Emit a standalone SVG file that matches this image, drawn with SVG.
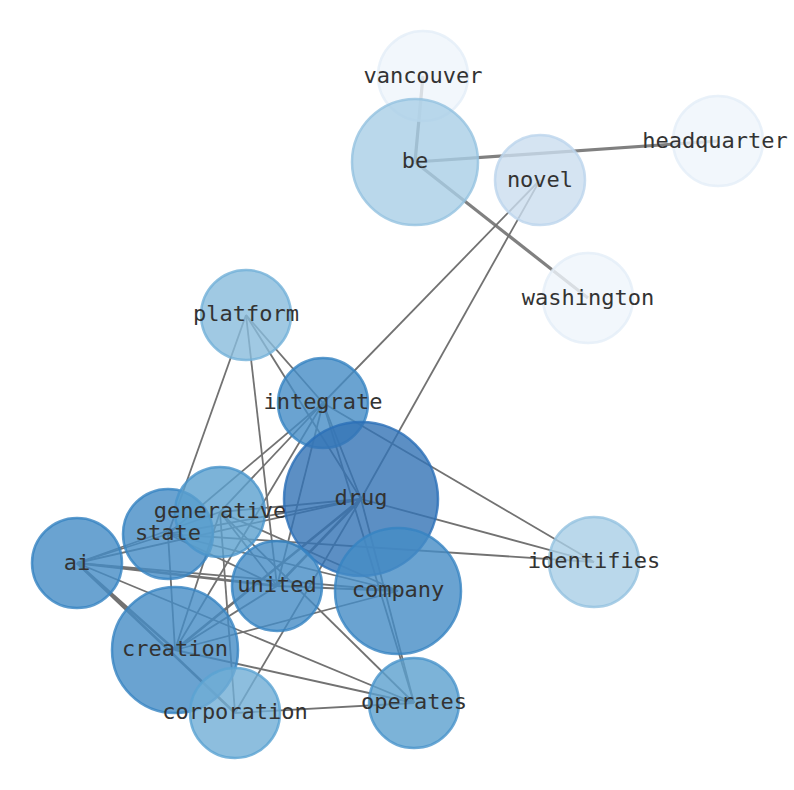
<svg xmlns="http://www.w3.org/2000/svg" width="794" height="790" viewBox="0 0 794 790">
<style>
.e{stroke:#727272;stroke-width:1.8;fill:none}
.w2{stroke-width:2.6}
.t{stroke:#808080;stroke-width:3.2}
.n{stroke-width:2.5;fill-opacity:0.8;stroke-opacity:0.8}
.c0{fill:#eff5fb;stroke:#e4eef8}
.c1{fill:#caddef;stroke:#bcd5ec}
.c2{fill:#a9cee6;stroke:#93c2e0}
.c3{fill:#88bcdc;stroke:#72b0d8}
.c4{fill:#71aed6;stroke:#5aa2d2}
.c5{fill:#5ba0ce;stroke:#4894ca}
.c6{fill:#458cc6;stroke:#3683c2}
.c7{fill:#3373b5;stroke:#2a6fb8}
text{font-family:"DejaVu Sans Mono","Liberation Mono",monospace;font-size:22px;fill:#333;text-anchor:middle}
</style>
<rect width="794" height="790" fill="#fff"/>
<g id="edges">
<line class="e t" x1="415" y1="162" x2="423" y2="76"/>
<line class="e t" x1="415" y1="162" x2="718" y2="141"/>
<line class="e t" x1="415" y1="162" x2="588" y2="298"/>
<line class="e" x1="540" y1="180" x2="323" y2="403"/>
<line class="e" x1="540" y1="180" x2="361" y2="499"/>
<line class="e" x1="246" y1="315" x2="168" y2="534"/>
<line class="e" x1="246" y1="315" x2="277" y2="586"/>
<line class="e" x1="246" y1="315" x2="323" y2="403"/>
<line class="e" x1="246" y1="315" x2="361" y2="499"/>
<line class="e" x1="323" y1="403" x2="594" y2="562"/>
<line class="e" x1="323" y1="403" x2="168" y2="534"/>
<line class="e" x1="323" y1="403" x2="361" y2="499"/>
<line class="e" x1="323" y1="403" x2="277" y2="586"/>
<line class="e" x1="323" y1="403" x2="175" y2="650"/>
<line class="e" x1="323" y1="403" x2="414" y2="703"/>
<line class="e" x1="361" y1="499" x2="594" y2="562"/>
<line class="e" x1="361" y1="499" x2="220" y2="512"/>
<line class="e" x1="361" y1="499" x2="168" y2="534"/>
<line class="e" x1="361" y1="499" x2="77" y2="563"/>
<line class="e w2" x1="361" y1="499" x2="277" y2="586"/>
<line class="e w2" x1="361" y1="499" x2="175" y2="650"/>
<line class="e" x1="361" y1="499" x2="414" y2="703"/>
<line class="e" x1="361" y1="499" x2="235" y2="713"/>
<line class="e" x1="168" y1="534" x2="594" y2="562"/>
<line class="e" x1="168" y1="534" x2="77" y2="563"/>
<line class="e" x1="168" y1="534" x2="175" y2="650"/>
<line class="e" x1="168" y1="534" x2="277" y2="586"/>
<line class="e" x1="168" y1="534" x2="398" y2="591"/>
<line class="e" x1="220" y1="512" x2="77" y2="563"/>
<line class="e" x1="220" y1="512" x2="277" y2="586"/>
<line class="e" x1="220" y1="512" x2="398" y2="591"/>
<line class="e" x1="220" y1="512" x2="175" y2="650"/>
<line class="e" x1="220" y1="512" x2="235" y2="713"/>
<line class="e" x1="220" y1="512" x2="414" y2="703"/>
<line class="e" x1="220" y1="512" x2="323" y2="403"/>
<line class="e w2" x1="77" y1="563" x2="277" y2="586"/>
<line class="e" x1="77" y1="563" x2="398" y2="591"/>
<line class="e w2" x1="77" y1="563" x2="175" y2="650"/>
<line class="e w2" x1="77" y1="563" x2="235" y2="713"/>
<line class="e" x1="77" y1="563" x2="414" y2="703"/>
<line class="e" x1="277" y1="586" x2="175" y2="650"/>
<line class="e" x1="277" y1="586" x2="398" y2="591"/>
<line class="e" x1="175" y1="650" x2="398" y2="591"/>
<line class="e" x1="175" y1="650" x2="414" y2="703"/>
<line class="e" x1="235" y1="713" x2="414" y2="703"/>
</g>
<g id="node-vancouver"><circle class="n c0" cx="423" cy="76" r="45"/></g>
<g id="node-be"><circle class="n c2" cx="415" cy="162" r="63"/></g>
<g id="node-headquarter"><circle class="n c0" cx="718" cy="141" r="45"/></g>
<g id="node-novel"><circle class="n c1" cx="540" cy="180" r="45"/></g>
<g id="node-washington"><circle class="n c0" cx="588" cy="298" r="45"/></g>
<g id="node-platform"><circle class="n c3" cx="246" cy="315" r="45"/></g>
<g id="node-integrate"><circle class="n c6" cx="323" cy="403" r="45"/></g>
<g id="node-drug"><circle class="n c7" cx="361" cy="499" r="77"/></g>
<g id="node-identifies"><circle class="n c2" cx="594" cy="562" r="45"/></g>
<g id="node-state"><circle class="n c6" cx="168" cy="534" r="45"/></g>
<g id="node-generative"><circle class="n c5" cx="220" cy="512" r="45"/></g>
<g id="node-ai"><circle class="n c6" cx="77" cy="563" r="45"/></g>
<g id="node-united"><circle class="n c6" cx="277" cy="586" r="45"/></g>
<g id="node-company"><circle class="n c6" cx="398" cy="591" r="63"/></g>
<g id="node-creation"><circle class="n c6" cx="175" cy="650" r="63"/></g>
<g id="node-corporation"><circle class="n c4" cx="235" cy="713" r="45"/></g>
<g id="node-operates"><circle class="n c5" cx="414" cy="703" r="45"/></g>
<g id="labels">
<text x="423" y="83">vancouver</text>
<text x="415" y="168">be</text>
<text x="715" y="148">headquarter</text>
<text x="540" y="187">novel</text>
<text x="588" y="305">washington</text>
<text x="246" y="321">platform</text>
<text x="323" y="409">integrate</text>
<text x="361" y="505">drug</text>
<text x="594" y="568">identifies</text>
<text x="220" y="518">generative</text>
<text x="168" y="540">state</text>
<text x="77" y="570">ai</text>
<text x="277" y="592">united</text>
<text x="398" y="597">company</text>
<text x="175" y="656">creation</text>
<text x="235" y="719">corporation</text>
<text x="414" y="709">operates</text>
</g>
</svg>
